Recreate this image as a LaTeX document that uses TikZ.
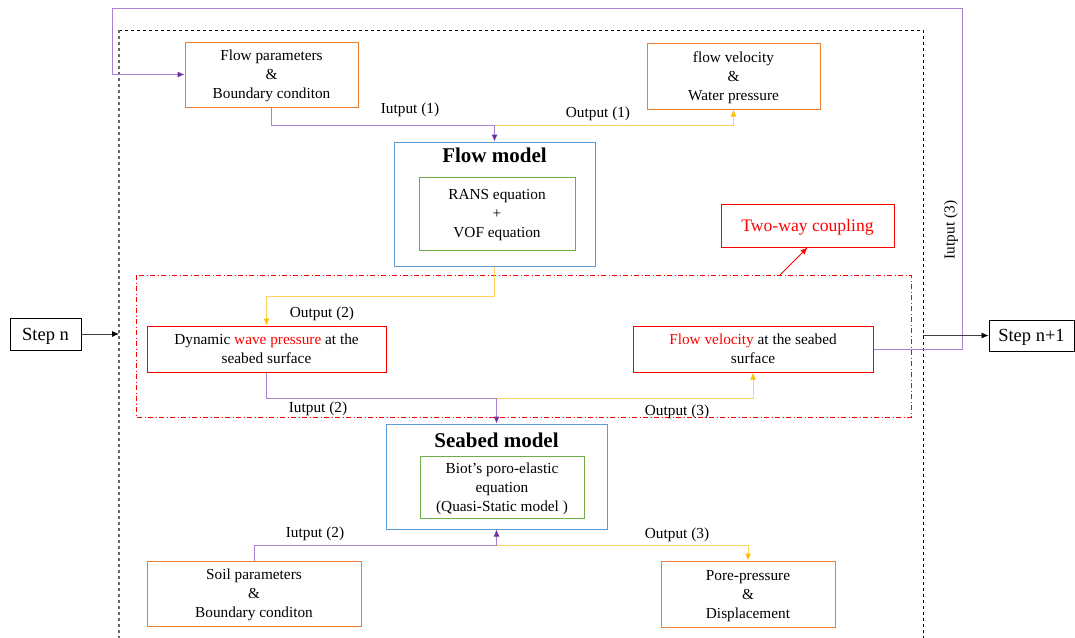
\documentclass[tikz,border=0pt]{standalone}
\usepackage{fontspec}
\setmainfont{Liberation Serif}
\usepackage{tikz}
\usetikzlibrary{arrows.meta,positioning,calc}

\definecolor{boxorange}{RGB}{237,125,49}
\definecolor{boxblue}{RGB}{91,155,213}
\definecolor{boxgreen}{RGB}{112,173,71}
\definecolor{linepurple}{RGB}{170,130,210}
\definecolor{tippurple}{RGB}{112,48,160}
\definecolor{lineyellow}{RGB}{255,210,100}
\definecolor{tipyellow}{RGB}{255,192,0}

\begin{document}
\begin{tikzpicture}[
        x=1pt, y=-1pt,
        every node/.style={font=\fontsize{15.3}{19}\selectfont, align=center, inner sep=0pt},
        obox/.style={draw=boxorange, line width=1pt, text depth=0pt},
        bbox/.style={draw=boxblue, line width=1pt},
        gbox/.style={draw=boxgreen, line width=1pt, text depth=0pt},
        rbox/.style={draw=red, line width=1pt, text depth=0pt},
        kbox/.style={draw=black, line width=0.9pt, text depth=0pt, font=\fontsize{18.5}{22}\selectfont},
        title/.style={font=\fontsize{21}{24}\selectfont\bfseries},
        purp/.style={draw=linepurple, line width=1pt, -{Latex[length=7pt,width=6pt,color=tippurple]}},
        yel/.style={draw=lineyellow, line width=1pt, -{Latex[length=7pt,width=6pt,color=tipyellow]}},
        blk/.style={draw=black!75, line width=0.8pt, -{Latex[length=7pt,width=6pt,color=black]}}
      ]
      \useasboundingbox (0,0) rectangle (1075,637);

      % frames
      \draw[dashed, line width=0.9pt] (119,30) -- (923,30) -- (923,660);
      \draw[black!60, line width=1.2pt, dashed] (119,30) -- (119,660);
      \draw[red, line width=0.9pt, dash pattern=on 5pt off 2.5pt on 1pt off 2.5pt] (136,275) rectangle (911,417);

      % top part
      \node[obox, minimum width=173pt, minimum height=65pt] (flowpar) at (271.5,74.5) {Flow parameters\\\&\\Boundary conditon};
      \node[obox, minimum width=173pt, minimum height=66pt] (flowvel) at (733.5,76) {flow velocity\\\&\\Water pressure};
      \node[bbox, minimum width=201pt, minimum height=124pt] (flowmodel) at (494.5,204) {};
      \node[title] (flowtitle) at (494.5,155) {Flow model};
      \node[gbox, minimum width=156pt, minimum height=73pt] (rans) at (497,213.5) {RANS equation\\+\\VOF equation};
      \node[rbox, minimum width=173pt, minimum height=43pt, text=red, font=\fontsize{17.6}{21}\selectfont] (coupling) at (807.5,225.5) {Two-way coupling};

      % coupling part
      \node[rbox, minimum width=239pt, minimum height=46pt] (dynpres) at (266.5,349) {Dynamic \textcolor{red}{wave pressure} at the\\seabed surface};
      \node[rbox, minimum width=240pt, minimum height=46pt] (sbvel) at (753,349) {\textcolor{red}{Flow velocity} at the seabed\\surface};

      % steps
      \node[kbox, minimum width=71pt, minimum height=32pt] (stepn) at (45.5,334) {Step n};
      \node[kbox, minimum width=85pt, minimum height=31pt] (stepnn) at (1031.5,335.5) {Step n+1};

      % bottom part
      \node[bbox, minimum width=221pt, minimum height=105pt] (seabed) at (496.5,476.5) {};
      \node[title] (seabedtitle) at (496.5,440) {Seabed model};
      \node[gbox, minimum width=164pt, minimum height=62pt] (biot) at (502,487) {Biot’s poro-elastic\\equation\\(Quasi-Static model )};
      \node[obox, minimum width=214pt, minimum height=65pt] (soil) at (254,593.5) {Soil parameters\\\&\\Boundary conditon};
      \node[obox, minimum width=174pt, minimum height=66pt] (pore) at (748,594) {Pore-pressure\\\&\\Displacement};

      % junctions
      \coordinate (j1) at (494.5,125);
      \coordinate (j2) at (494.5,296);
      \coordinate (j3) at (496.5,398);
      \coordinate (j4) at (496.5,545);
      \coordinate (loopr) at (962,8);
      \coordinate (loopl) at (112,74.5);
      \coordinate (inn) at (119,334);
      \coordinate (outn) at (923,335.5);
      \coordinate (cpl) at (780,275);

      % connectors
      \draw[yel] (j1) -| (flowvel.south);
      \draw[purp] (flowpar.south) |- (j1) -- (flowmodel.north);
      \draw[yel] (flowmodel.south) -- (j2) -| (dynpres.north);
      \draw[yel] (j3) -| (sbvel.south);
      \draw[purp] (dynpres.south) |- (j3) -- (seabed.north);
      \draw[yel] (j4) -| (pore.north);
      \draw[purp] (soil.north) |- (j4) -- (seabed.south);
      \draw[purp] (sbvel.east) -| (loopr) -| (loopl) -- (flowpar.west);
      \draw[blk] (stepn.east) -- (inn);
      \draw[blk] (outn) -- (stepnn.west);
      \draw[red, line width=0.8pt, -{Latex[length=7pt,width=6pt]}] (cpl) -- (coupling.south);

      % labels
      \node (lin1) at (410,110) {Iutput (1)};
      \node (lout1) at (598,114) {Output (1)};
      \node (lout2) at (322,314) {Output (2)};
      \node (lin2) at (318,409) {Iutput (2)};
      \node (lout3) at (677,412) {Output (3)};
      \node (lin2b) at (315,534) {Iutput (2)};
      \node (lout3b) at (677,535) {Output (3)};
      \node[rotate=90] (lin3) at (951,230) {Iutput (3)};
    \end{tikzpicture}
\end{document}
